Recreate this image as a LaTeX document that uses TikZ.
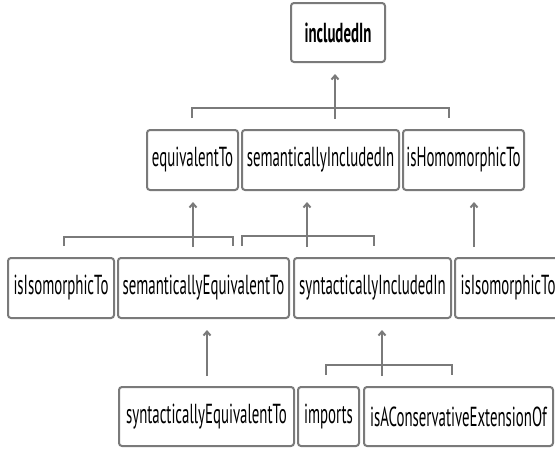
\documentclass[tikz,border=0pt]{standalone}
\usepackage{fontspec}
\setmainfont{PT Sans}[FakeStretch=0.54]
\usetikzlibrary{arrows.meta,calc}
\definecolor{linegray}{HTML}{7A7A7A}
\begin{document}
\begin{tikzpicture}[x=1pt,y=-1pt,
  box/.style={draw=linegray,line width=2pt,rounded corners=3pt,inner sep=0pt,
    font=\fontsize{27.5}{30}\selectfont,fill=white,text=black},
  conn/.style={draw=linegray,line width=2pt},
  arr/.style={conn,-{Straight Barb[length=4pt,width=7pt]},shorten >=11pt}]
\useasboundingbox (0,0) rectangle (555,450);
\clip (0,0) rectangle (555,450);
% row 1
\node[box,minimum width=94pt,minimum height=59pt,font=\fontsize{27.5}{30}\selectfont\bfseries] (inc) at (338,32.5) {includedIn};
% row 2
\node[box,minimum width=91pt,minimum height=60pt] (eq) at (192.5,160) {equivalentTo};
\node[box,minimum width=157pt,minimum height=60pt] (semInc) at (320.5,160) {semanticallyIncludedIn};
\node[box,minimum width=121pt,minimum height=60pt] (isHom) at (463.5,160) {isHomomorphicTo};
% row 3
\node[box,minimum width=106pt,minimum height=60pt] (isIso) at (61,288) {isIsomorphicTo};
\node[box,minimum width=171pt,minimum height=60pt] (semEq) at (203.5,288) {semanticallyEquivalentTo};
\node[box,minimum width=157pt,minimum height=60pt] (synInc) at (372.5,288) {syntacticallyIncludedIn};
\node[box,minimum width=106pt,minimum height=60pt] (isIsoB) at (508,288) {isIsomorphicTo};
% row 4
\node[box,minimum width=175pt,minimum height=59pt] (synEq) at (206.5,416.5) {syntacticallyEquivalentTo};
\node[box,minimum width=61pt,minimum height=59pt] (imp) at (328.5,416.5) {imports};
\node[box,minimum width=189pt,minimum height=59pt] (cons) at (458.5,416.5) {isAConservativeExtensionOf};
% bracket row 2 -> includedIn
\coordinate (barA) at (335,108);
\coordinate (stA) at (335,119);
\draw[conn] ([xshift=-0.5pt,yshift=11pt]eq.north) |- (barA) -| ([xshift=-14.5pt,yshift=11pt]isHom.north);
\draw[arr] (stA) -- (stA |- inc.south);
% bracket isIso/semEq -> equivalentTo
\coordinate (barB) at (193,237);
\coordinate (stB) at (193,247);
\draw[conn] ([xshift=3pt,yshift=11pt]isIso.north) |- (barB) -| ([xshift=29.5pt,yshift=11pt]semEq.north);
\draw[arr] (stB) -- (stB |- eq.south);
% bracket semEq/synInc -> semanticallyIncludedIn
\coordinate (barC) at (307,236);
\coordinate (stC) at (307,247);
\draw[conn] ([xshift=38.5pt,yshift=11pt]semEq.north) |- (barC) -| ([xshift=1.5pt,yshift=11pt]synInc.north);
\draw[arr] (stC) -- (stC |- semInc.south);
% isIsoB -> isHom
\coordinate (stD) at (474,247);
\draw[arr] (stD) -- (stD |- isHom.south);
% synEq -> semEq
\coordinate (stE) at (207,376);
\draw[arr] (stE) -- (stE |- semEq.south);
% bracket imports/cons -> synInc
\coordinate (barF) at (382,365);
\coordinate (stF) at (382,376);
\draw[conn] ([xshift=-2.5pt,yshift=11pt]imp.north) |- (barF) -| ([xshift=-6.5pt,yshift=11pt]cons.north);
\draw[arr] (stF) -- (stF |- synInc.south);
\end{tikzpicture}
\end{document}
